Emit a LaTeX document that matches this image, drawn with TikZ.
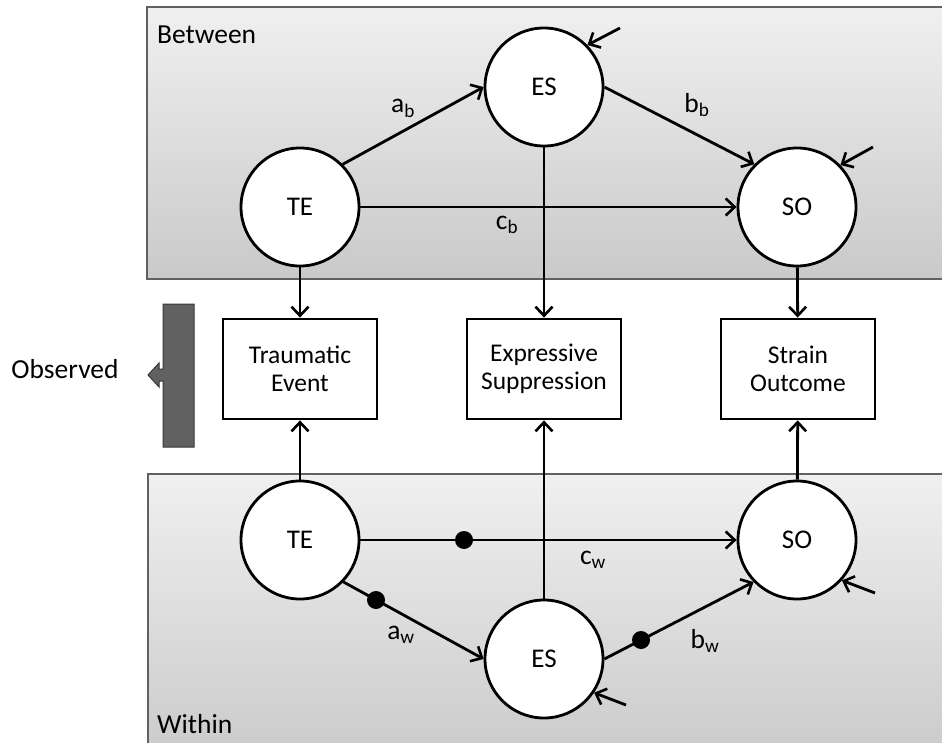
\documentclass[tikz,border=0pt]{standalone}
\usepackage{fontspec}
\setmainfont{Carlito}
\usetikzlibrary{arrows.meta}
\begin{document}
\begin{tikzpicture}[x=1pt,y=-1pt,
  lat/.style={circle,draw,line width=2.8pt,fill=white,minimum size=118pt,inner sep=0pt,font=\fontsize{27}{30}\selectfont},
  obs/.style={rectangle,draw,line width=2.8pt,fill=white,minimum width=154pt,minimum height=100pt,align=center,font=\fontsize{25.5}{28}\selectfont},
  conn/.style={line width=2.8pt,-{Straight Barb[length=9pt,width=17pt,line width=2.6pt]}},
  lbl/.style={font=\fontsize{27.5}{30}\selectfont,inner sep=0pt},
  panel/.style={draw=black!62,line width=2pt,top color=black!6,bottom color=black!21},
  dot/.style={circle,fill=black,inner sep=0pt,minimum size=18pt}
]
\useasboundingbox (0,0) rectangle (942,743);
\clip (0,0) rectangle (942,743);
% panels
\path[panel] (147,7) rectangle (962,279);
\path[panel] (148,474) rectangle (962,765);
\node[lbl,anchor=west] (between) at (157,35) {Between};
\node[lbl,anchor=west] (within) at (157,724) {Within};
% latent nodes
\node[lat] (TEb) at (300,207) {TE};
\node[lat] (ESb) at (544,87) {ES};
\node[lat] (SOb) at (797,207) {SO};
\node[lat] (TEw) at (300,540) {TE};
\node[lat] (ESw) at (544,659) {ES};
\node[lat] (SOw) at (797,540) {SO};
% observed boxes
\node[obs] (te) at (300,369) {Traumatic\\Event};
\node[obs] (es) at (544,369) {Expressive\\Suppression};
\node[obs] (so) at (798,369) {Strain\\Outcome};
% between paths
\draw[conn] (TEb.45) -- (ESb.west);
\draw[conn] (ESb.east) -- (SOb.135);
\draw[conn] (TEb) -- (SOb);
\draw[conn] (ESb) -- (es);
\draw[conn] (TEb) -- (te);
\draw[conn] (SOb) -- (so);
% within paths
\draw[conn] (TEw) -- (te);
\draw[conn] (ESw) -- (es);
\draw[conn] (SOw) -- (so);
\draw[conn] (TEw) -- (SOw);
\draw[conn] (TEw.-44) -- (ESw.west);
\draw[conn] (ESw.east) -- (SOw.-136);
% dots
\node[dot] (d1) at (464,540) {};
\node[dot] (d2) at (376,600) {};
\node[dot] (d3) at (641,640) {};
% residuals
\coordinate (r1) at (620,28);
\coordinate (r2) at (873,147);
\coordinate (r3) at (875,593);
\coordinate (r4) at (626,705);
\draw[conn] (r1) -- (ESb.44);
\draw[conn] (r2) -- (SOb.44);
\draw[conn] (r3) -- (SOw.-42);
\draw[conn] (r4) -- (ESw.-34);
% labels
\node[lbl] (ab) at (403,108) {a\textsubscript{b}};
\node[lbl] (cb) at (507,225) {c\textsubscript{b}};
\node[lbl] (bb) at (697,105) {b\textsubscript{b}};
\node[lbl] (cw) at (593,560) {c\textsubscript{w}};
\node[lbl] (aw) at (401,635) {a\textsubscript{w}};
\node[lbl] (bw) at (705,641) {b\textsubscript{w}};
% observed marker
\node[lbl] (obsl) at (65,369) {Observed};
\draw[fill=black!62,draw=black!78,line width=1pt] (163,304) -- (194,304) -- (194,447) -- (163,447) -- (163,381) -- (159,381) -- (159,387) -- (148,375) -- (159,363) -- (159,369) -- (163,369) -- cycle;
\end{tikzpicture}
\end{document}
